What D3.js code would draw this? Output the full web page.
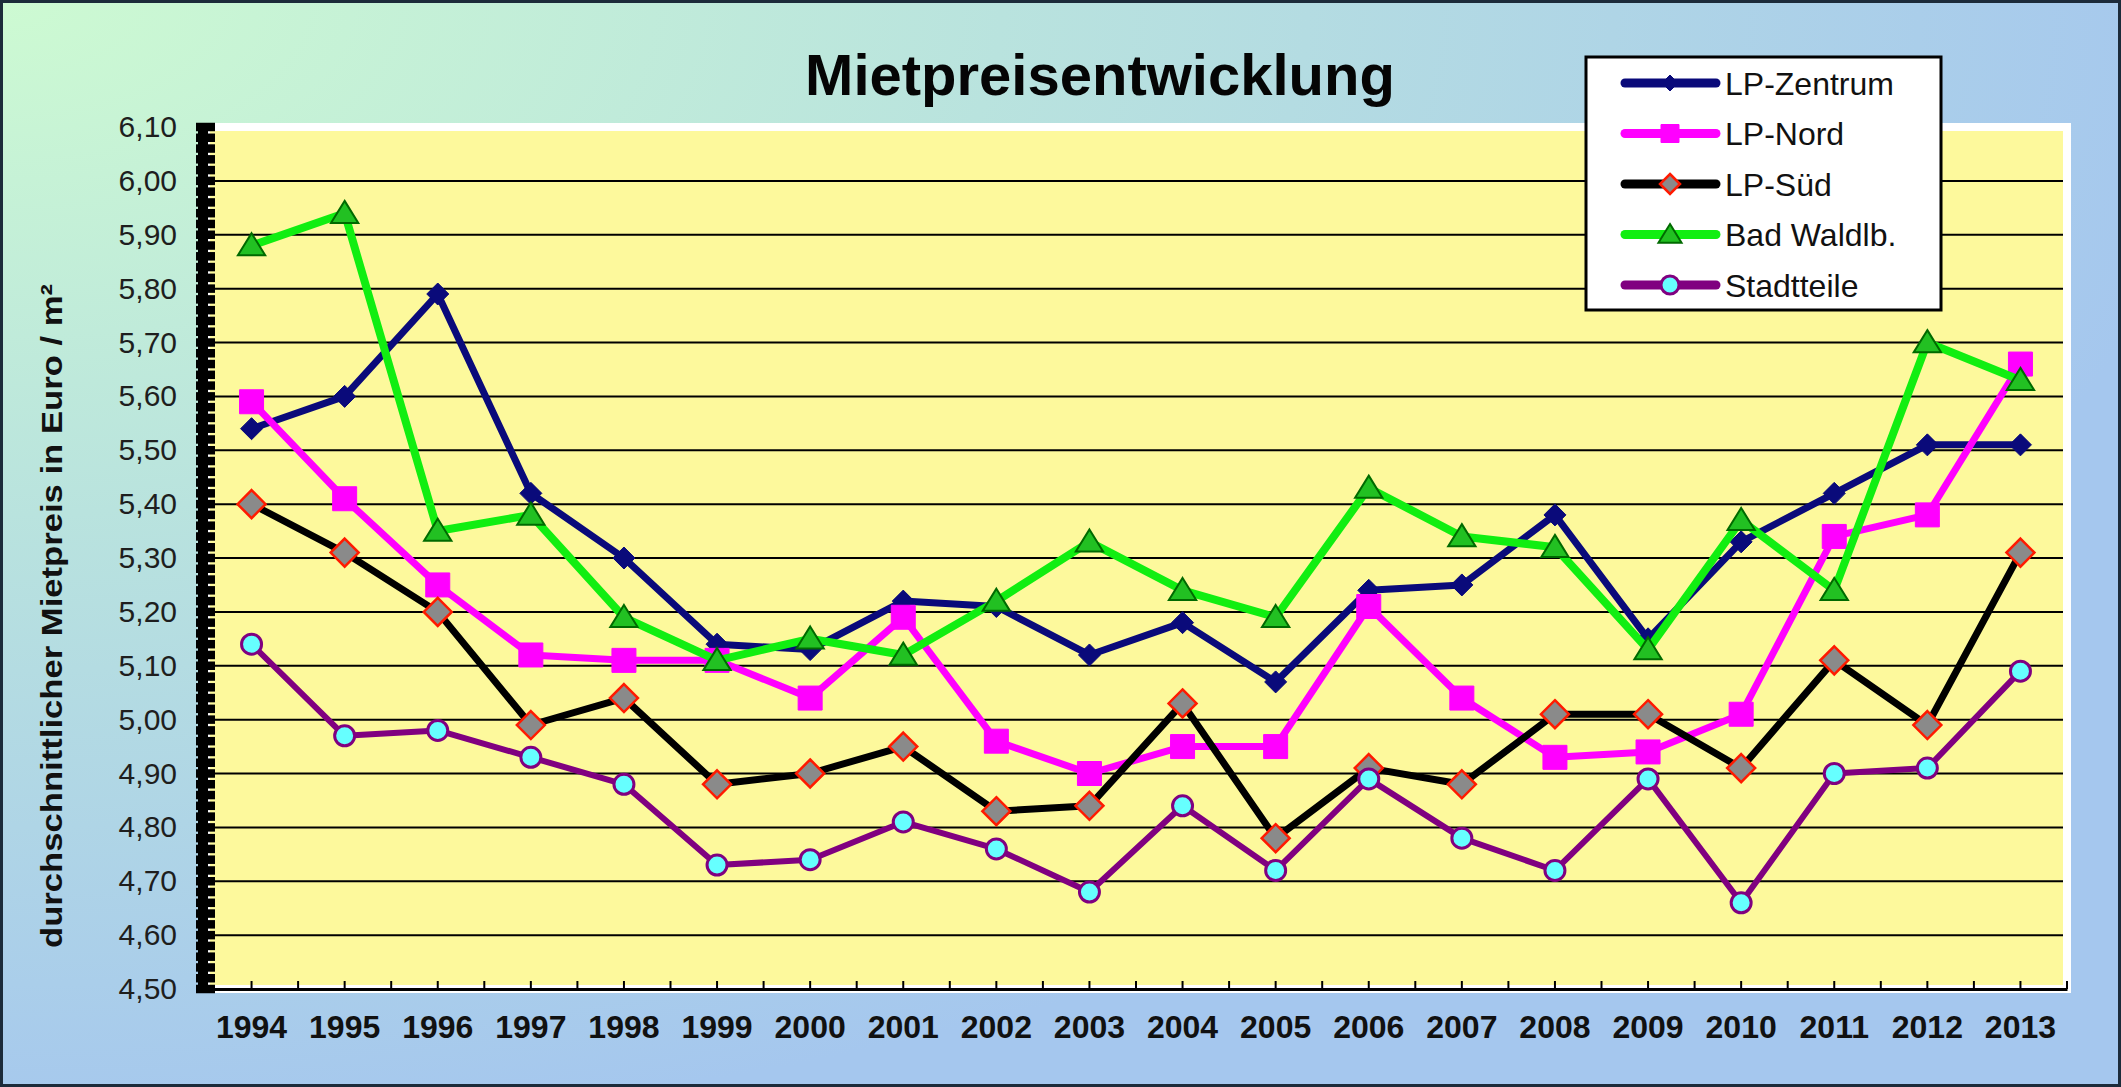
<!DOCTYPE html>
<html>
<head>
<meta charset="utf-8">
<script src="https://cdn.jsdelivr.net/npm/d3@7"></script>
<style>
  body { margin: 0; background: #ffffff; }
  svg { display: block; font-family: "Liberation Sans", Arial, sans-serif; }
</style>
</head>
<body>
<div class="chart"></div>
<script>
var years = [1994, 1995, 1996, 1997, 1998, 1999, 2000, 2001, 2002, 2003,
             2004, 2005, 2006, 2007, 2008, 2009, 2010, 2011, 2012, 2013];

var zentrum = [5.54, 5.60, 5.79, 5.42, 5.30, 5.14, 5.13, 5.22, 5.21, 5.12,
               5.18, 5.07, 5.24, 5.25, 5.38, 5.15, 5.33, 5.42, 5.51, 5.51];
var nord = [5.59, 5.41, 5.25, 5.12, 5.11, 5.11, 5.04, 5.19, 4.96, 4.90,
            4.95, 4.95, 5.21, 5.04, 4.93, 4.94, 5.01, 5.34, 5.38, 5.66];
var sued = [5.40, 5.31, 5.20, 4.99, 5.04, 4.88, 4.90, 4.95, 4.83, 4.84,
            5.03, 4.78, 4.91, 4.88, 5.01, 5.01, 4.91, 5.11, 4.99, 5.31];
var waldlb = [5.88, 5.94, 5.35, 5.38, 5.19, 5.11, 5.15, 5.12, 5.22, 5.33,
              5.24, 5.19, 5.43, 5.34, 5.32, 5.13, 5.37, 5.24, 5.70, 5.63];
var stadtteile = [5.14, 4.97, 4.98, 4.93, 4.88, 4.73, 4.74, 4.81, 4.76, 4.68,
                  4.84, 4.72, 4.89, 4.78, 4.72, 4.89, 4.66, 4.90, 4.91, 5.09];

var seriesNames = ["LP-Zentrum", "LP-Nord", "LP-Süd", "Bad Waldlb.", "Stadtteile"];
var yTicks = [4.5, 4.6, 4.7, 4.8, 4.9, 5.0, 5.1, 5.2, 5.3, 5.4, 5.5, 5.6, 5.7, 5.8, 5.9, 6.0, 6.1];

var width = 2121;
var height = 1087;
var plot = { left: 206, right: 2067, top: 127, bottom: 989 };

// marker shapes (centred at 0,0)
function diamond(s) { return "M0," + (-s) + "L" + s + ",0L0," + s + "L" + (-s) + ",0Z"; }
function square(s) { return "M" + (-s) + "," + (-s) + "H" + s + "V" + s + "H" + (-s) + "Z"; }
function triangle(s) { return "M0," + (-s * 0.95) + "L" + (s * 1.05) + "," + (s * 0.75) + "L" + (-s * 1.05) + "," + (s * 0.75) + "Z"; }
function circle(s) { return d3.arc()({ innerRadius: 0, outerRadius: s, startAngle: 0, endAngle: 2 * Math.PI }); }

var styles = [
  { values: zentrum, line: "#0a0a7a", width: 7, shape: diamond, size: 11, legSize: 8, fill: "#0a0a7a", stroke: "#0a0a7a", sw: 1 },
  { values: nord, line: "#ff00ff", width: 7, shape: square, size: 12, legSize: 9, fill: "#ff00ff", stroke: "#ff00ff", sw: 1 },
  { values: sued, line: "#000000", width: 7, shape: diamond, size: 14, legSize: 10, fill: "#8a8a8a", stroke: "#ff1a00", sw: 2.5 },
  { values: waldlb, line: "#11ee11", width: 8, shape: triangle, size: 13, legSize: 11, fill: "#22c022", stroke: "#006a00", sw: 2 },
  { values: stadtteile, line: "#800080", width: 6, shape: circle, size: 10, legSize: 9, fill: "#66ffff", stroke: "#800080", sw: 3 }
];

var svg = d3.select(".chart").append("svg")
  .attr("width", width)
  .attr("height", height);

var defs = svg.append("defs");
var grad = defs.append("radialGradient")
  .attr("id", "bg").attr("cx", 0).attr("cy", 0).attr("r", 1.05).attr("fx", 0).attr("fy", 0);
grad.append("stop").attr("offset", "0%").attr("stop-color", "#cdfad2");
grad.append("stop").attr("offset", "45%").attr("stop-color", "#b9e3de");
grad.append("stop").attr("offset", "100%").attr("stop-color", "#a5c7ee");

svg.append("rect")
  .attr("x", 1.5).attr("y", 1.5)
  .attr("width", width - 3).attr("height", height - 3)
  .attr("fill", "url(#bg)")
  .attr("stroke", "#1c2b3a")
  .attr("stroke-width", 3);

var xScale = d3.scaleBand().domain(years).range([plot.left - 1, plot.right]);
var yScale = d3.scaleLinear().domain([4.5, 6.1]).range([plot.bottom, plot.top]);
var cx = function(i) { return xScale(years[i]) + xScale.bandwidth() / 2; };

// plot area
svg.append("rect")
  .attr("x", plot.left).attr("y", plot.top)
  .attr("width", plot.right - plot.left).attr("height", plot.bottom - plot.top)
  .attr("fill", "#fdf99c")
  .attr("stroke", "#ffffff")
  .attr("stroke-width", 8);

// gridlines
svg.append("g").selectAll("line")
  .data(yTicks.filter(function(d) { return d > 4.5 && d < 6.1; }))
  .enter().append("line")
  .attr("x1", plot.left).attr("x2", plot.right - 4)
  .attr("y1", function(d) { return yScale(d); })
  .attr("y2", function(d) { return yScale(d); })
  .attr("stroke", "#000")
  .attr("stroke-width", 2);

// x axis
var xAxis = svg.append("g")
  .attr("transform", "translate(0," + plot.bottom + ")")
  .call(d3.axisBottom(xScale).tickSize(-8).tickPadding(26).tickSizeOuter(0));
xAxis.select(".domain").attr("stroke", "#000").attr("stroke-width", 3);
xAxis.selectAll(".tick line").attr("stroke-width", 2);
xAxis.selectAll(".tick text")
  .attr("font-size", 32).attr("font-weight", "bold").attr("fill", "#111")
  .attr("font-family", "'Liberation Sans', Arial, sans-serif");
xAxis.selectAll(".bound").data(years)
  .enter().append("line")
  .attr("x1", function(d) { return xScale(d) + xScale.step(); })
  .attr("x2", function(d) { return xScale(d) + xScale.step(); })
  .attr("y1", 0).attr("y2", -8)
  .attr("stroke", "#000").attr("stroke-width", 2);

// y axis: thick comb-like axis
var minor = d3.range(0, 81).map(function(k) { return 4.5 + k * 0.02; });
svg.append("line")
  .attr("x1", 203).attr("x2", 203).attr("y1", plot.top - 4).attr("y2", plot.bottom + 4)
  .attr("stroke", "#000").attr("stroke-width", 10);
svg.append("g").selectAll("line").data(minor).enter().append("line")
  .attr("x1", 196).attr("x2", 215)
  .attr("y1", function(d) { return yScale(d); })
  .attr("y2", function(d) { return yScale(d); })
  .attr("stroke", "#000").attr("stroke-width", 8.5);

var fmt = d3.formatLocale({ decimal: ",", thousands: ".", grouping: [3], currency: ["", "€"] }).format(".2f");
var yAxis = svg.append("g")
  .attr("transform", "translate(" + plot.left + ",0)")
  .call(d3.axisLeft(yScale).tickValues(yTicks).tickFormat(fmt).tickSize(0).tickPadding(29));
yAxis.select(".domain").remove();
yAxis.selectAll(".tick text")
  .attr("font-size", 30).attr("fill", "#1e1e1e")
  .attr("font-family", "'Liberation Sans', Arial, sans-serif");

// series
styles.forEach(function(s) {
  var line = d3.line()
    .x(function(d, i) { return cx(i); })
    .y(function(d) { return yScale(d); });
  svg.append("path")
    .datum(s.values)
    .attr("d", line)
    .attr("fill", "none")
    .attr("stroke", s.line)
    .attr("stroke-width", s.width)
    .attr("stroke-linejoin", "round");
  svg.append("g").selectAll("path")
    .data(s.values)
    .enter().append("path")
    .attr("d", s.shape(s.size))
    .attr("transform", function(d, i) { return "translate(" + cx(i) + "," + yScale(d) + ")"; })
    .attr("fill", s.fill)
    .attr("stroke", s.stroke)
    .attr("stroke-width", s.sw);
});

// title
svg.append("text")
  .attr("x", 1100).attr("y", 95)
  .attr("text-anchor", "middle")
  .attr("font-size", 58).attr("font-weight", "bold").attr("fill", "#050505")
  .text("Mietpreisentwicklung");

// y axis title
svg.append("text")
  .attr("transform", "translate(62,616) rotate(-90)")
  .attr("text-anchor", "middle")
  .attr("font-size", 30).attr("font-weight", "bold").attr("fill", "#111")
  .attr("textLength", 664).attr("lengthAdjust", "spacingAndGlyphs")
  .text("durchschnittlicher Mietpreis in Euro / m²");

// legend
var legend = svg.append("g");
legend.append("rect")
  .attr("x", 1586).attr("y", 57).attr("width", 355).attr("height", 253)
  .attr("fill", "#fff").attr("stroke", "#000").attr("stroke-width", 3);
var item = legend.selectAll(".item").data(styles).enter().append("g")
  .attr("transform", function(d, i) { return "translate(0," + (83 + i * 50.5) + ")"; });
item.append("line")
  .attr("x1", 1625).attr("x2", 1716)
  .attr("stroke", function(d) { return d.line; })
  .attr("stroke-width", 9).attr("stroke-linecap", "round");
item.append("path")
  .attr("d", function(d) { return d.shape(d.legSize); })
  .attr("transform", "translate(1670,0)")
  .attr("fill", function(d) { return d.fill; })
  .attr("stroke", function(d) { return d.stroke; })
  .attr("stroke-width", function(d) { return d.sw; });
item.append("text")
  .attr("x", 1725).attr("dy", "0.36em")
  .attr("font-size", 32).attr("fill", "#111")
  .text(function(d, i) { return seriesNames[i]; });
</script>
</body>
</html>
